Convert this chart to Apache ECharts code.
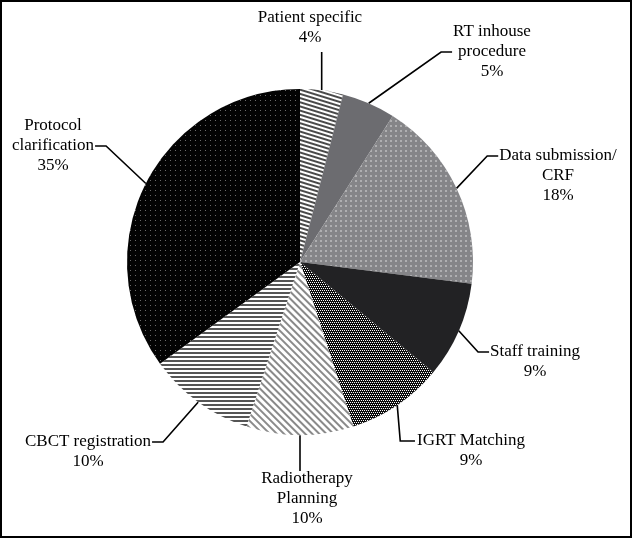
<!DOCTYPE html>
<html>
<head>
<meta charset="utf-8">
<script src="https://cdn.jsdelivr.net/npm/echarts@6/dist/echarts.min.js"></script>
<style>
  html, body { margin: 0; padding: 0; background: #fff; }
  #chart { width: 632px; height: 538px; }
</style>
</head>
<body>
<div id="chart"></div>
<script>
  // data (percent of queries)
  var categories = [
    'Patient specific',
    'RT inhouse\nprocedure',
    'Data submission/\nCRF',
    'Staff training',
    'IGRT Matching',
    'Radiotherapy\nPlanning',
    'CBCT registration',
    'Protocol\nclarification'
  ];
  var values = [4, 5, 18, 9, 9, 10, 10, 35];

  // fills: grey levels + hatch patterns (decals)
  var sliceFills = ['#ffffff', '#6c6c70', '#858588', '#222224', '#0c0c0c', '#ffffff', '#ffffff', '#030303'];
  var sliceDecals = [
    { symbol: 'rect', color: '#4a4a4a', dashArrayX: [1, 0], dashArrayY: [1.5, 1.5], rotation: 0.3 },
    null,
    { symbol: 'circle', color: '#e6e6e6', symbolSize: 0.8, dashArrayX: [2, 3], dashArrayY: [2, 3] },
    null,
    { symbol: 'rect', color: '#ffffff', dashArrayX: [[1, 1], [0, 1, 1, 0]], dashArrayY: [1, 0.5] },
    { symbol: 'rect', color: '#8a8a8a', dashArrayX: [1, 0], dashArrayY: [1.5, 2.5], rotation: Math.PI / 4 },
    { symbol: 'rect', color: '#555555', dashArrayX: [1, 0], dashArrayY: [2, 1.5], rotation: 0 },
    { symbol: 'rect', color: '#6a6a6a', dashArrayX: [1, 4], dashArrayY: [1, 4] }
  ];

  // where each label sits and which side the leader line meets
  var labelSpots = [
    { x: 310, y: 28, side: 'bottom', line: 0 },
    { x: 492, y: 52, side: 'left', line: 1 },
    { x: 558, y: 176, side: 'left', line: 0 },
    { x: 535, y: 362, side: 'left', line: 0 },
    { x: 471, y: 451, side: 'leftDown', line: 0 },
    { x: 307, y: 499, side: 'top', line: 0 },
    { x: 88, y: 452, side: 'right', line: 0 },
    { x: 53, y: 146, side: 'right', line: 1 }
  ];
  var lineH = 20;

  var chart = echarts.init(document.getElementById('chart'));

  var pieData = categories.map(function (name, i) {
    var style = { color: sliceFills[i] };
    if (sliceDecals[i]) style.decal = sliceDecals[i];
    return { name: name, value: values[i], itemStyle: style };
  });

  var option = {
    backgroundColor: '#fff',
    animation: false,
    graphic: [{
      type: 'rect',
      shape: { x: 1, y: 1, width: 630, height: 536 },
      style: { fill: null, stroke: '#000', lineWidth: 2 },
      silent: true
    }],
    series: [{
      type: 'pie',
      center: [300, 262],
      radius: 173,
      startAngle: 90,
      clockwise: true,
      avoidLabelOverlap: false,
      data: pieData,
      itemStyle: { borderWidth: 0 },
      label: {
        show: true,
        position: 'outside',
        formatter: '{b}\n{c}%',
        fontFamily: 'Liberation Serif',
        fontSize: 17,
        lineHeight: lineH,
        color: '#000'
      },
      labelLine: {
        show: true,
        length: 20,
        length2: 10,
        lineStyle: { color: '#000', width: 1.6 }
      },
      labelLayout: function (p) {
        var s = labelSpots[p.dataIndex];
        var w = p.labelRect.width, h = p.labelRect.height;
        var left = s.x - w / 2, top = s.y - h / 2;
        var a = p.labelLinePoints[0];
        var ly = top + lineH * (s.line + 0.5);
        var pts;
        if (s.side === 'bottom') {
          pts = [a, [a[0], top + h + 4]];
        } else if (s.side === 'top') {
          pts = [a, [a[0], top + 2]];
        } else if (s.side === 'left') {
          pts = [a, [left - 12, ly], [left - 1, ly]];
        } else if (s.side === 'leftDown') {
          pts = [a, [a[0] + 3, ly], [left - 2, ly]];
        } else {
          pts = [a, [left + w + 12, ly], [left + w + 1, ly]];
        }
        return {
          x: s.x,
          y: s.y,
          align: 'center',
          verticalAlign: 'middle',
          labelLinePoints: pts
        };
      }
    }]
  };

  chart.setOption(option);
</script>
</body>
</html>
